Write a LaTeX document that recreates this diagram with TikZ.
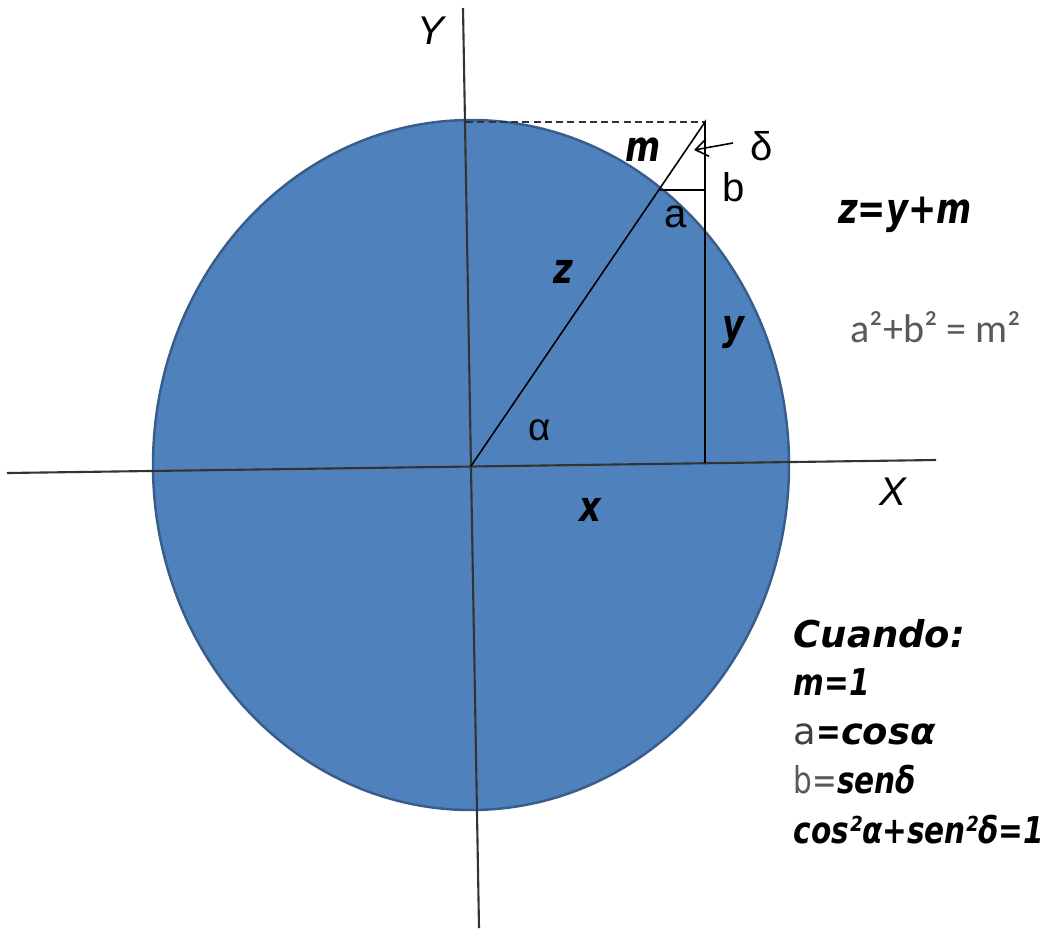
\documentclass[tikz,border=0pt]{standalone}
\usepackage{fontspec}
\usetikzlibrary{arrows.meta}
\newfontfamily\vfont{DejaVu Sans}
\newfontfamily\vcfont[FakeStretch=0.8]{DejaVu Sans}
\newfontfamily\lfont{Liberation Sans}
\newfontfamily\cfont{Carlito}
\definecolor{discblue}{HTML}{4F81BD}
\definecolor{discedge}{HTML}{385D8A}
\definecolor{txtgray}{HTML}{595959}
\definecolor{txtdark}{HTML}{404040}
\definecolor{axisgray}{HTML}{333333}
\tikzset{
  lbl/.style={inner sep=0pt,font=\lfont\fontsize{11.4}{13}\selectfont},
  blbl/.style={inner sep=0pt,font=\vcfont\bfseries\itshape\fontsize{12}{14}\selectfont},
  note/.style={inner sep=0pt,anchor=base west,font=\vfont\bfseries\itshape\fontsize{10.5}{12}\selectfont},
  notec/.style={note,font=\vcfont\bfseries\itshape\fontsize{10.5}{12}\selectfont},
  axis/.style={axisgray,line width=0.6pt},
  thin/.style={black,line width=0.45pt}
}
\begin{document}
\begin{tikzpicture}[x=0.01cm,y=-0.01cm,>={Straight Barb[length=3.5pt,width=5pt]}]
	\useasboundingbox (0,0) rectangle (1052,939);
	% disc
	\filldraw[fill=discblue,draw=discedge,line width=0.7pt](471,465)ellipse[x radius=318,y radius=345];
	% points
	\coordinate (O) at (471,466);
	\coordinate (P) at (705,122);
	\coordinate (T) at (466,122);
	\coordinate (Q) at (659,190);
	\coordinate (H) at (705,190);
	\coordinate (R) at (705,463);
	\coordinate (xl) at (7,473);
	\coordinate (xr) at (936,460);
	\coordinate (yt) at (463,8);
	\coordinate (yb) at (479,928);
	\coordinate (d1) at (733,143);
	\coordinate (d2) at (694,150);
	% axes and lines
	\draw[axis](xl)--(xr) (yt)--(yb);
	\draw[axis,line width=0.5pt,dash pattern=on 2pt off 1.2pt](T)--(P);
	\draw[thin](O)--(P)--(R) (Q)--(H);
	\draw[thin,->](d1)--(d2);
	% labels
	\node[lbl,font=\lfont\itshape\fontsize{11.4}{13}\selectfont] (labY) at (431,31) {Y};
	\node[lbl,font=\lfont\itshape\fontsize{11.4}{13}\selectfont] (labX) at (893,492) {X};
	\node[blbl] (labm) at (643,150) {m};
	\node[lbl] (labdelta) at (762,146) {δ};
	\node[lbl] (labb) at (734,187) {b};
	\node[lbl] (laba) at (676,217) {a};
	\node[blbl] (labz) at (563,272) {z};
	\node[blbl] (laby) at (733,333) {y};
	\node[lbl,font=\lfont\fontsize{11}{13}\selectfont] (labalpha) at (540,430) {α};
	\node[blbl] (labx) at (590,510) {x};
	% formulas
	\node[blbl] (zsum) at (905,215) {z=y+m};
	\node[inner sep=0pt,text=txtgray,font=\cfont\fontsize{11.4}{13}\selectfont] (pyth) at (936,327) {a²+b² = m²};
	\node[note] (cuando) at (793,647) {Cuando:};
	\node[notec] (mone) at (793,695) {m=1};
	\node[note] (acos) at (793,744) {{\mdseries\upshape\color{txtdark}a}{\vcfont =}cosα};
	\node[notec] (bsen) at (793,793) {{\mdseries\upshape\color{txtgray}b=}senδ};
	\node[notec] (ident) at (793,843) {cos²α+sen²δ=1};
\end{tikzpicture}
\end{document}
